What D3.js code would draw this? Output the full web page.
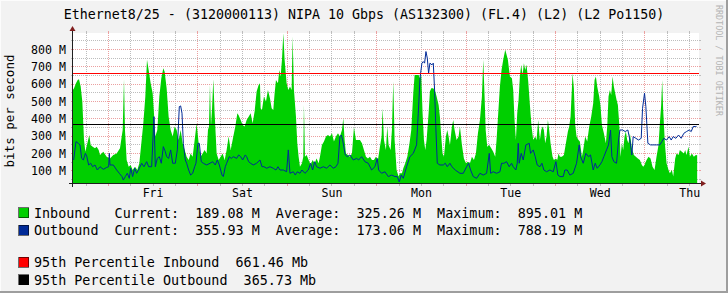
<!DOCTYPE html>
<html><head><meta charset="utf-8">
<script src="https://cdn.jsdelivr.net/npm/d3@7"></script>
<style>
html,body{margin:0;padding:0;background:#F2F2F2;}
svg{display:block;}
text{font-family:"DejaVu Sans Mono",monospace;}
</style>
</head><body>
<svg id="c" width="728" height="293"></svg>
<script>
// ---------------- data (hours since start of window, Mbit/s) ----------------
const inboundHours = [0,0.27,0.80,1.25,1.61,2.06,2.50,2.95,3.31,3.85,4.38,4.74,5.28,5.90,6.35,6.89,7.25,8.14,9.03,9.93,10.82,11.72,12.61,13.33,13.69,13.95,14.40,14.94,15.47,16.01,16.64,17.26,17.80,18.34,18.87,19.41,19.86,20.30,20.84,21.38,21.73,22.09,22.63,23.17,23.70,24.24,24.60,25.13,25.67,26.21,26.75,27.28,27.82,28.35,28.89,29.43,29.96,30.50,31.04,31.57,32.11,32.65,33.18,33.72,34.26,34.79,35.33,35.87,36.22,36.49,36.76,37.03,37.30,37.66,38.01,38.55,39.09,39.62,40.16,40.70,41.23,41.77,42.31,43.02,43.56,44.10,44.45,44.99,45.53,46.06,46.60,47.14,47.67,48.21,48.75,49.28,49.82,50.18,50.36,50.71,51.25,51.79,52.32,52.86,53.31,53.75,54.11,54.47,55.01,55.36,55.72,56.08,56.44,56.79,57.33,57.78,58.23,58.67,58.94,59.30,59.84,60.19,60.55,60.91,61.45,61.80,61.98,62.25,62.70,63.23,63.77,64.31,64.84,65.38,65.92,66.28,66.81,67.35,67.89,68.42,68.96,69.50,70.03,70.57,71.11,71.64,72.18,72.54,72.89,73.25,73.79,74.33,74.86,75.40,75.94,76.47,77.01,77.55,78.08,78.62,79.16,79.69,80.23,80.76,81.30,81.84,82.37,82.82,83.09,83.45,83.98,84.34,84.70,85.24,85.59,85.95,86.31,86.85,87.38,87.74,88.28,88.64,89.17,89.71,90.25,90.78,91.32,91.68,92.21,92.75,93.11,93.46,93.82,94.18,94.54,94.90,95.43,95.79,96.15,96.69,97.22,97.58,98.12,98.47,98.83,99.19,99.55,100.08,100.44,100.80,101.16,101.69,102.05,102.41,102.95,103.48,103.84,104.38,104.91,105.45,105.99,106.52,107.06,107.60,108.13,108.67,109.21,109.74,110.10,110.46,110.75,111.17,111.70,112.24,112.78,113.31,113.67,114.12,114.57,115.01,115.46,116.00,116.36,116.71,117.25,117.79,118.14,118.50,118.86,119.22,119.58,119.93,120.29,120.65,121.01,121.36,121.72,122.17,122.62,123.06,123.51,124.05,124.40,124.85,125.30,125.66,126.01,126.37,126.73,127.09,127.45,127.80,128.16,128.70,129.06,129.59,129.95,130.31,130.67,131.20,131.74,132.28,132.81,133.17,133.53,133.89,134.06,134.42,134.78,135.14,135.67,136.03,136.57,136.93,137.46,138.00,138.54,139.07,139.61,139.97,140.33,140.68,141.22,141.58,141.94,142.47,143.01,143.37,143.72,144.08,144.44,144.80,145.15,145.51,145.87,146.23,146.59,146.94,147.30,147.66,148.02,148.37,148.73,149.09,149.45,149.98,150.52,151.06,151.59,152.13,152.67,153.03,153.38,153.92,154.46,154.99,155.53,156.07,156.60,157.14,157.50,157.85,158.12,158.39,158.84,159.29,159.82,160.18,160.72,161.08,161.61,161.97,162.51,162.86,163.40,163.94,164.30,164.65,165.19,165.55,166.08,166.62,167.16,167.51];
const inboundMbps = [567,576,605,624,628,586,499,278,210,258,306,249,239,229,239,220,191,210,181,171,191,200,229,335,628,335,162,123,133,104,123,104,143,258,374,528,740,682,605,547,432,297,335,528,634,692,672,576,412,335,297,355,335,277,335,258,220,181,162,200,181,277,374,258,181,200,220,200,335,355,595,355,451,628,432,200,162,181,200,162,220,297,220,297,355,432,420,393,364,355,393,412,432,374,443,557,595,605,460,451,528,499,566,518,460,451,547,624,605,682,644,740,894,740,605,566,586,566,875,566,412,258,181,123,143,181,480,181,191,162,133,162,143,171,143,181,249,268,297,306,297,316,268,297,316,297,335,403,277,200,191,181,200,351,277,277,277,258,220,181,171,181,162,162,181,162,239,297,460,277,220,355,249,220,335,615,277,104,66,85,85,114,143,181,249,335,547,653,653,653,634,653,432,277,220,277,432,557,576,576,557,528,480,412,297,200,181,297,335,297,249,355,393,335,277,297,355,249,171,143,152,143,181,162,200,316,393,528,740,528,335,239,249,229,210,181,277,432,586,682,740,798,769,740,644,634,566,393,277,432,509,644,711,653,721,682,711,615,480,355,277,297,277,393,277,335,355,335,258,297,393,335,258,181,162,171,162,200,181,181,191,258,326,355,412,576,663,576,364,297,277,268,181,220,297,268,355,412,489,624,644,586,528,470,364,316,258,355,528,566,537,644,586,547,509,480,374,181,258,220,297,326,277,258,316,229,191,181,171,162,133,123,133,162,181,171,123,104,181,249,374,480,624,451,258,143,104,85,104,66,171,200,191,220,210,200,220,191,239,181,200,181,191,189];

const outboundHours = [0.18,0.80,1.43,1.88,2.33,2.77,3.31,3.67,4.20,4.74,5.28,5.90,6.53,7.25,8.14,9.03,9.57,9.75,9.93,10.82,11.72,12.43,13.15,13.51,14.04,14.58,15.11,15.47,16.01,16.55,17.08,17.80,18.43,19.05,19.77,20.30,21.11,21.73,22.09,22.63,23.17,23.70,24.24,24.77,25.13,25.67,26.21,26.75,27.46,28.00,28.53,28.89,29.25,29.61,30.14,30.50,31.04,31.57,32.11,32.65,33.00,33.54,33.90,34.43,34.97,35.87,36.76,37.48,38.19,38.73,39.27,39.98,40.34,40.87,41.23,41.95,42.49,43.02,43.92,44.45,44.99,45.53,46.24,46.60,47.14,47.67,48.39,49.28,50.18,50.71,51.25,51.97,52.86,53.75,54.47,55.01,55.54,56.44,57.33,57.78,58.23,59.12,59.66,60.19,60.91,61.45,62.25,63.14,63.77,64.31,64.84,65.38,66.28,67.17,68.07,68.96,69.85,70.57,71.11,71.64,72.00,72.36,73.07,73.61,74.33,75.22,76.11,76.65,77.46,78.35,79.24,80.14,81.03,81.66,82.02,82.82,83.72,84.61,85.50,86.40,87.03,87.56,88.10,88.64,89.53,90.42,91.32,92.21,92.66,93.11,93.29,93.64,94.00,94.36,94.72,95.08,95.43,95.79,96.33,96.69,97.04,97.40,97.76,98.47,99.37,99.90,100.44,101.16,101.69,102.59,103.84,104.74,105.63,106.17,106.70,107.42,108.31,109.21,110.10,111.00,111.71,112.07,112.78,113.68,114.57,115.01,115.64,116.36,117.07,117.70,118.14,118.86,119.22,119.49,119.75,120.29,120.83,121.54,122.44,122.79,123.51,124.05,124.58,125.30,125.84,126.37,127.09,127.98,128.88,129.59,130.13,130.67,131.56,132.01,132.63,133.35,134.24,135.14,135.85,136.21,136.93,137.64,138.36,138.89,139.61,140.15,140.68,141.40,141.94,142.47,143.19,143.72,144.26,144.62,145.16,145.87,146.41,146.77,147.48,148.20,148.91,149.45,149.98,150.34,151.06,151.77,152.49,152.85,153.38,153.74,154.28,154.99,155.71,156.60,157.50,158.03,158.57,159.29,160.00,160.54,161.08,161.79,162.51,163.22,163.94,164.65,165.37,165.91,166.44,166.98,167.34];
const outboundMbps = [162,268,258,249,171,162,200,185,133,143,123,133,104,123,108,119,123,200,133,133,104,85,66,46,66,85,56,114,66,114,85,114,143,123,152,123,123,412,123,171,181,143,239,210,181,171,220,143,143,220,470,474,432,258,162,143,104,75,85,123,143,258,258,152,143,133,143,152,133,162,133,75,66,123,143,181,171,181,171,191,181,162,191,181,152,143,133,143,162,123,123,114,123,114,104,123,104,104,94,220,85,94,75,94,85,104,85,104,143,104,152,123,114,123,114,133,114,123,143,297,306,277,191,181,191,162,171,162,181,152,143,104,123,171,104,85,94,66,75,66,66,35,75,56,123,181,200,249,432,624,663,721,730,721,788,750,663,721,711,721,566,335,143,133,133,143,123,143,123,104,85,85,123,143,104,66,56,85,75,85,200,85,94,85,94,143,143,152,123,143,123,104,143,258,143,200,162,249,258,200,220,181,133,123,143,104,94,104,94,152,75,66,66,104,104,75,85,143,249,181,143,200,181,191,104,143,114,133,152,181,220,249,335,181,152,143,277,335,335,326,335,277,191,297,287,277,287,460,547,470,258,249,249,249,249,268,287,277,297,277,297,287,306,287,316,326,335,326,355,355,356];

const yMinM = 29, yMaxM = 895.01;
const yMajorTicks = [100,200,300,400,500,600,700,800];
const yMinorTicks = [50,150,250,350,450,550,650,750,850];
const yTickLabels = ["100 M","200 M","300 M","400 M","500 M","600 M","700 M","800 M"];
const dayLabels = ["Fri","Sat","Sun","Mon","Tue","Wed","Thu"];
const pct95InboundM = 661.46, pct95OutboundM = 365.73;
const titleText = "Ethernet8/25 - (3120000113) NIPA 10 Gbps (AS132300) (FL.4) (L2) (L2 Po1150)";
const legendLines = [
  "Inbound   Current:  189.08 M  Average:  325.26 M  Maximum:  895.01 M",
  "Outbound  Current:  355.93 M  Average:  173.06 M  Maximum:  788.19 M",
  "95th Percentile Inbound  661.46 Mb",
  "95th Percentile Outbound  365.73 Mb"
];

// ---------------- layout / style ----------------
const W = 728, H = 293;
const P = {left:73, right:699, top:33, bottom:183};
const C = {back:"#F2F2F2", canvas:"#FFFFFF", shadeB:"#9E9E9E",
  grid:"#BDBDBD", mgrid:"#EBA0A0", axis:"#1F1F1F", arrow:"#801F1F",
  inbound:"#00CF00", outbound:"#002A97", p95in:"#FF0000", p95out:"#000000"};
const legendColors = [C.inbound, C.outbound, C.p95in, C.p95out];
const legendCenters = [213, 230.5, 262.5, 280];

const t0 = new Date(2021, 0, 7, 14, 30); // Thursday afternoon
const t1 = d3.timeHour.offset(t0, 168);
const tAt = h => new Date(t0.getTime() + h * 3600e3);

const x = d3.scaleTime().domain([t0, t1]).range([P.left, P.right]);
const y = d3.scaleLinear().domain([yMinM, yMaxM]).range([P.bottom, P.top]);
const px = v => Math.floor(v) + 0.5;

const svg = d3.select("#c");
svg.append("rect").attr("width", W).attr("height", H).attr("fill", C.back);
svg.append("rect").attr("x",0).attr("y",0).attr("width",W).attr("height",1).attr("fill","#FCFCFC");
svg.append("rect").attr("x",0).attr("y",0).attr("width",1).attr("height",H).attr("fill","#FCFCFC");
svg.append("rect").attr("x",0).attr("y",H-2).attr("width",W).attr("height",2).attr("fill",C.shadeB);
svg.append("rect").attr("x",W-2).attr("y",0).attr("width",2).attr("height",H).attr("fill",C.shadeB);

svg.append("defs").append("clipPath").attr("id","clip")
  .append("rect").attr("x",P.left).attr("y",P.top).attr("width",P.right-P.left).attr("height",P.bottom-P.top);

svg.append("rect").attr("x",P.left).attr("y",P.top).attr("width",P.right-P.left).attr("height",P.bottom-P.top).attr("fill",C.canvas);

// ---------- grid ----------
const g = svg.append("g").attr("shape-rendering","crispEdges");
function hGrid(v, col){
  const yy = px(y(v));
  g.append("line").attr("x1",P.left).attr("x2",P.right).attr("y1",yy).attr("y2",yy)
    .attr("stroke",col).attr("stroke-dasharray","1,1");
  g.append("line").attr("x1",P.left-2).attr("x2",P.left).attr("y1",yy).attr("y2",yy).attr("stroke",col);
  g.append("line").attr("x1",P.right).attr("x2",P.right+2).attr("y1",yy).attr("y2",yy).attr("stroke",col);
}
function vGrid(t, col){
  const xx = px(x(t));
  g.append("line").attr("x1",xx).attr("x2",xx).attr("y1",P.top).attr("y2",P.bottom)
    .attr("stroke",col).attr("stroke-dasharray","1,1");
  g.append("line").attr("x1",xx).attr("x2",xx).attr("y1",P.bottom).attr("y2",P.bottom+3).attr("stroke",col);
  g.append("line").attr("x1",xx).attr("x2",xx).attr("y1",P.top-2).attr("y2",P.top).attr("stroke",col);
}
yMinorTicks.forEach(v => hGrid(v, C.grid));
const sixHours = d3.timeHour.every(6).range(t0, t1).filter(t => t.getHours() !== 0);
sixHours.forEach(t => vGrid(t, C.grid));
yMajorTicks.forEach(v => hGrid(v, C.mgrid));
const midnights = d3.timeDay.range(t0, t1);
midnights.forEach(t => vGrid(t, C.mgrid));

// ---------- data ----------
const inData = inboundHours.map((h,i)=>({t:tAt(h), v:inboundMbps[i]}));
const outData = outboundHours.map((h,i)=>({t:tAt(h), v:outboundMbps[i]}));
const plotG = svg.append("g").attr("clip-path","url(#clip)");
plotG.append("path").datum(inData)
  .attr("d", d3.area().x(d=>x(d.t)).y0(P.bottom+1).y1(d=>y(d.v)))
  .attr("fill", C.inbound);
[[pct95InboundM, C.p95in],[pct95OutboundM, C.p95out]].forEach(([v,col])=>{
  svg.append("rect").attr("x",P.left).attr("width",P.right-P.left)
    .attr("y",Math.floor(y(v))).attr("height",1).attr("fill",col);
});
plotG.append("path").datum(outData)
  .attr("d", d3.line().x(d=>x(d.t)).y(d=>y(d.v)))
  .attr("fill","none").attr("stroke",C.outbound).attr("stroke-width",1);

// ---------- axes ----------
const ax = svg.append("g").attr("shape-rendering","crispEdges");
ax.append("line").attr("x1",P.left-4).attr("x2",P.right+4).attr("y1",P.bottom+0.5).attr("y2",P.bottom+0.5).attr("stroke",C.axis);
ax.append("line").attr("x1",P.left-0.5).attr("x2",P.left-0.5).attr("y1",P.bottom+4).attr("y2",P.top-4).attr("stroke",C.axis);
svg.append("path").attr("fill",C.arrow)
  .attr("d",`M${P.right+2},${P.bottom-2.5}L${P.right+7},${P.bottom+0.5}L${P.right+2},${P.bottom+3.5}Z`);
svg.append("path").attr("fill",C.arrow)
  .attr("d",`M${P.left-3.5},${P.top-2}L${P.left-0.5},${P.top-7}L${P.left+2.5},${P.top-2}Z`);

// y tick labels
svg.append("g").selectAll("text").data(yMajorTicks).join("text")
  .attr("x", 66).attr("y", d => y(d)).attr("dy","0.36em")
  .attr("text-anchor","end").attr("font-size","11.6px").attr("fill","#000")
  .text((d,i)=>yTickLabels[i]);

// x day labels (centred on noon)
svg.append("g").selectAll("text").data(midnights).join("text")
  .attr("x", d => x(d3.timeHour.offset(d,12))).attr("y", 196.5)
  .attr("text-anchor","middle").attr("font-size","11.6px").attr("fill","#000")
  .text((d,i)=>dayLabels[i]);

// y axis title
svg.append("text").attr("transform","translate(13.5,111) rotate(-90)")
  .attr("text-anchor","middle").attr("font-size","12.5px").attr("fill","#000")
  .text("bits per second");

// title
svg.append("text").attr("x", 364).attr("y", 18.5).attr("text-anchor","middle")
  .attr("font-size","13.3px").attr("fill","#000").text(titleText);

// watermark
svg.append("text").attr("transform","translate(716,5) rotate(90)")
  .attr("font-size","8.4px").attr("fill","#B4B4B4").text("RRDTOOL / TOBI OETIKER");

// legend
const lg = svg.append("g");
legendLines.forEach((s,i)=>{
  const cy = legendCenters[i];
  lg.append("rect").attr("x",18.5).attr("y",cy-5.5).attr("width",10).attr("height",10)
    .attr("fill",legendColors[i]).attr("stroke","#000").attr("stroke-opacity",0.55).attr("shape-rendering","crispEdges");
  lg.append("text").attr("x",34).attr("y",cy).attr("dy","0.36em")
    .attr("font-size","13.4px").attr("fill","#000").style("white-space","pre").text(s);
});
</script>
</body></html>
